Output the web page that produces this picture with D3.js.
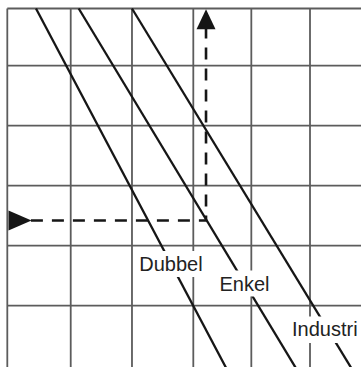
<!DOCTYPE html>
<html><head><meta charset="utf-8">
<script src="https://cdn.jsdelivr.net/npm/d3@7"></script>
<style>html,body{margin:0;padding:0;background:#fff;}svg{display:block;}</style>
</head><body>
<script>
// Grid positions (grid units)
const gridX = [0, 1.057, 2.078, 3.1, 4.067, 5.045];
const gridY = [0, 0.953, 1.953, 2.953, 3.953, 4.953];
// Diagonal lines: name, x at top (v=0), x at bottom (v=6)
const seriesNames = ["Dubbel", "Enkel", "Industri"];
const seriesTopX = [0.478, 1.19, 2.078];
const seriesBottomX = [3.652, 4.814, 5.738];
const seriesTopY = [0, 0, 0];
const seriesBottomY = [6, 6, 6];
// Reading point (dashed guide) on the Enkel line
const readX = [3.312];
const readY = [3.533];

const W = 361, H = 367;
const svg = d3.select("body").append("svg").attr("width", W).attr("height", H);
const x = d3.scaleLinear().domain([0, 6]).range([7.3, 367.3]);
const y = d3.scaleLinear().domain([0, 6]).range([8.5, 368.5]);

const grid = svg.append("g").attr("stroke", "#5c5c5c").attr("stroke-width", 1.8);
grid.selectAll("line.v").data(gridX).join("line").attr("class", "v")
  .attr("x1", d => x(d)).attr("x2", d => x(d)).attr("y1", y(0)).attr("y2", H);
grid.selectAll("line.h").data(gridY).join("line").attr("class", "h")
  .attr("x1", x(0)).attr("x2", W).attr("y1", d => y(d)).attr("y2", d => y(d));

const lines = seriesNames.map((n, i) => ({name: n, pts: [[seriesTopX[i], seriesTopY[i]], [seriesBottomX[i], seriesBottomY[i]]]}));
const lg = d3.line().x(d => x(d[0])).y(d => y(d[1]));
svg.append("g").selectAll("path").data(lines).join("path")
  .attr("d", d => lg(d.pts)).attr("fill", "none").attr("stroke", "#161616").attr("stroke-width", 2.3);

// dashed guide
const rx = readX[0], ry = readY[0];
const arrowLen = 20 / 60, arrowHalf = 9.5 / 60;
const dashPts = [[arrowLen + 0.06, ry], [rx, ry], [rx, arrowLen + 0.01]];
svg.append("path").attr("d", lg(dashPts)).attr("fill", "none")
  .attr("stroke", "#161616").attr("stroke-width", 2.6).attr("stroke-dasharray", "12,9");
// arrowheads
svg.append("path").attr("fill", "#161616").attr("d", lg([
  [0.02, ry - arrowHalf * 1.05], [0.02 + arrowLen * 1.15, ry], [0.02, ry + arrowHalf * 1.05]]) + "Z");
svg.append("path").attr("fill", "#161616").attr("d", lg([
  [rx - arrowHalf, 0.345], [rx, 0.012], [rx + arrowHalf, 0.345]]) + "Z");

// labels with white backing
const labelPos = [
  {tx: 139.3, ty: 271, box: [136, 251, 70, 26]},
  {tx: 219.5, ty: 291, box: [216, 270.5, 60, 26]},
  {tx: 292, ty: 335.7, box: [288, 316.5, 80, 26.5]}
];
const lab = svg.append("g");
seriesNames.forEach((n, i) => {
  const p = labelPos[i];
  lab.append("rect").attr("x", p.box[0]).attr("y", p.box[1]).attr("width", p.box[2]).attr("height", p.box[3]).attr("fill", "#fff");
  lab.append("text").attr("x", p.tx).attr("y", p.ty).text(n)
    .attr("font-family", "'Liberation Sans', Arial, Helvetica, sans-serif")
    .attr("font-size", 20).attr("fill", "#222");
});
</script>
</body></html>
